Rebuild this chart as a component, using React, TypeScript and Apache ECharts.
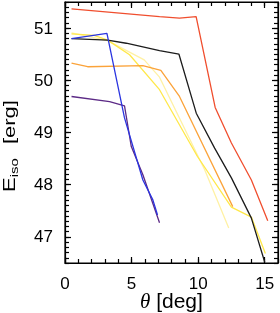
import React, { useEffect, useRef } from "react";
import * as echarts from "echarts";

// Axis ranges and tick labels
const X_MIN = 0;
const X_MAX = 16;
const Y_MIN = 46.5;
const Y_MAX = 51.5;
const xTickLabels = [0, 5, 10, 15];
const yTickLabels = [47, 48, 49, 50, 51];

// Series: theta [deg] and log10 E_iso [erg]
const redTheta = [0.49, 7.1, 8.6, 9.85, 11.28, 12.5, 14.0, 15.23];
const redE = [51.37, 51.22, 51.19, 51.22, 49.48, 48.8, 48.09, 47.31];

const blackTheta = [0.49, 3.2, 4.6, 7.1, 8.56, 9.86, 11.24, 12.5, 14.0, 15.0];
const blackE = [50.8, 50.77, 50.71, 50.57, 50.5, 49.37, 48.7, 48.13, 47.36, 46.52];

const orangeTheta = [0.49, 1.7, 5.85, 7.2, 8.6, 12.6];
const orangeE = [50.33, 50.26, 50.28, 50.19, 49.69, 47.58];

const yellowTheta = [0.49, 2.2, 3.2, 4.85, 7.1, 9.95, 12.5, 14.0, 15.05];
const yellowE = [50.89, 50.86, 50.77, 50.49, 49.82, 48.54, 47.57, 47.38, 46.68];

const paleTheta = [0.49, 3.2, 5.95, 7.1, 10.5, 12.3];
const paleE = [50.91, 50.76, 50.39, 50.06, 48.28, 47.17];

const blueTheta = [0.49, 3.15, 4.47, 5.85, 6.6, 6.95];
const blueE = [50.8, 50.9, 49.28, 48.09, 47.71, 47.42];

const purpleTheta = [0.49, 3.35, 4.47, 4.98, 5.85, 7.1];
const purpleE = [49.69, 49.59, 49.51, 48.73, 48.19, 47.27];

const zip = (xs: number[], ys: number[]) => xs.map((x, i) => [x, ys[i]]);

const LABEL_FONT = "Liberation Sans";
const INK = "#000";

function tick(length: number, custom?: number[]) {
  const t: any = { show: true, inside: true, length, lineStyle: { color: INK, width: 1.2 } };
  if (custom) t.customValues = custom;
  return t;
}

function xAx(position: string, major: boolean, withLabels: boolean) {
  const a: any = {
    type: "value",
    min: X_MIN,
    max: X_MAX,
    position,
    splitLine: { show: false },
    axisLine: { show: major, onZero: false, lineStyle: { color: INK, width: 1.2 } },
    axisTick: major ? tick(6, xTickLabels) : tick(4),
    axisLabel: withLabels
      ? { customValues: xTickLabels, margin: 15, lineHeight: 10, color: "#000", fontSize: 17, fontFamily: LABEL_FONT }
      : { show: false },
  };
  if (!major) a.interval = 1;
  return a;
}

function yAx(position: string, major: boolean, withLabels: boolean) {
  const a: any = {
    type: "value",
    min: Y_MIN,
    max: Y_MAX,
    position,
    splitLine: { show: false },
    axisLine: { show: major, onZero: false, lineStyle: { color: INK, width: 1.2 } },
    axisTick: major ? tick(6, yTickLabels) : tick(4),
    axisLabel: withLabels
      ? { customValues: yTickLabels, margin: 12, padding: [8, 0, 0, 0], color: "#000", fontSize: 17, fontFamily: LABEL_FONT }
      : { show: false },
  };
  if (!major) a.interval = 0.1;
  return a;
}

export default function App() {
  const ref = useRef<HTMLDivElement>(null);

  useEffect(() => {
    if (!ref.current) return;
    const chart = echarts.init(ref.current, undefined, { renderer: "svg" });

    const lineSeries = (xs: number[], ys: number[], color: string) => ({
      type: "line",
      data: zip(xs, ys),
      xAxisIndex: 0,
      yAxisIndex: 0,
      symbol: "none",
      lineStyle: { color, width: 1.3 },
    });

    chart.setOption({
      animation: false,
      grid: {
        left: 65,
        right: 2,
        top: 2,
        bottom: 50,
        show: true,
        borderColor: INK,
        borderWidth: 1.2,
        backgroundColor: "transparent",
      },
      xAxis: [xAx("bottom", true, true), xAx("bottom", false, false), xAx("top", true, false), xAx("top", false, false)],
      yAxis: [yAx("left", true, true), yAx("left", false, false), yAx("right", true, false), yAx("right", false, false)],
      series: [
        lineSeries(paleTheta, paleE, "#fff1a4"),
        lineSeries(yellowTheta, yellowE, "#ffe84a"),
        lineSeries(orangeTheta, orangeE, "#fba33a"),
        lineSeries(blackTheta, blackE, "#1c1c1c"),
        lineSeries(redTheta, redE, "#f04e2e"),
        lineSeries(purpleTheta, purpleE, "#5c2a86"),
        lineSeries(blueTheta, blueE, "#2b35e0"),
      ],
    });

    return () => chart.dispose();
  }, []);

  return (
    <div style={{ position: "fixed", left: 0, top: 0, width: 280, height: 313 }}>
      <div ref={ref} style={{ position: "absolute", left: 0, top: 0, width: 280, height: 313 }} />
      <div
        style={{
          position: "absolute",
          left: 140,
          top: 292,
          width: 74,
          height: 18,
          fontSize: 21,
          lineHeight: "18px",
          fontFamily: LABEL_FONT,
          whiteSpace: "nowrap",
          color: "#000",
        }}
      >
        <span style={{ fontFamily: "Liberation Serif", fontStyle: "italic" }}>θ</span> [deg]
      </div>
      <div
        style={{
          position: "absolute",
          left: -50,
          top: 137,
          width: 120,
          height: 18,
          transform: "rotate(-90deg) scaleY(0.72)",
          transformOrigin: "60px 9px",
          fontSize: 22,
          lineHeight: "18px",
          fontFamily: LABEL_FONT,
          whiteSpace: "nowrap",
          textAlign: "center",
          color: "#000",
        }}
      >
        E<sub style={{ fontSize: 15, verticalAlign: "-4px", lineHeight: 0 }}>iso</sub>
        <span style={{ marginLeft: 14 }}>[erg]</span>
      </div>
    </div>
  );
}
